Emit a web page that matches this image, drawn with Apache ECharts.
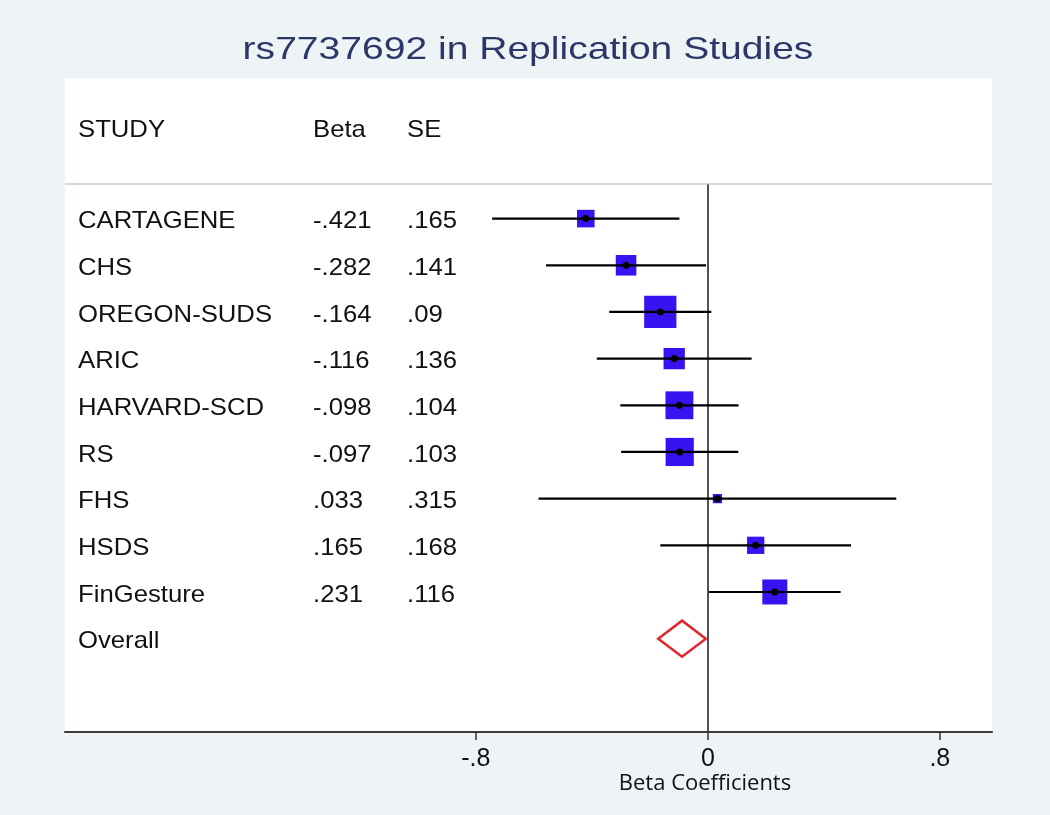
<!DOCTYPE html>
<html>
<head>
<meta charset="utf-8">
<title>rs7737692 in Replication Studies</title>
<script src="https://cdn.jsdelivr.net/npm/echarts@6/dist/echarts.min.js"></script>
<style>
  html, body { margin: 0; padding: 0; background: #eef3f6; }
  #forestChart { width: 1050px; height: 815px; }
</style>
</head>
<body>
<div id="forestChart"></div>
<script>
// study rows, top to bottom
const studies = ["CARTAGENE", "CHS", "OREGON-SUDS", "ARIC", "HARVARD-SCD", "RS", "FHS", "HSDS", "FinGesture"];
const beta = [-0.421, -0.282, -0.164, -0.116, -0.098, -0.097, 0.033, 0.165, 0.231];
const se = [0.165, 0.141, 0.09, 0.136, 0.104, 0.103, 0.315, 0.168, 0.116];
// 95% CI ends
const ciLow = [-0.744, -0.558, -0.340, -0.383, -0.302, -0.299, -0.584, -0.164, 0.004];
const ciHigh = [-0.098, -0.006, 0.012, 0.151, 0.106, 0.105, 0.650, 0.494, 0.458];
// pooled estimate (diamond)
const overallLabel = "Overall";
const overallBeta = -0.089;
const overallLow = -0.171;
const overallHigh = -0.007;
// x axis ticks
const tickValues = [-0.8, 0, 0.8];
const tickLabels = ["-.8", "0", ".8"];

// stata style numbers: -.421, .09
function fmt(v) {
  return String(v).replace("0.", ".");
}

const chart = echarts.init(document.getElementById("forestChart"));

const rowCount = studies.length;
const tableRows = studies.map((s, i) => [i, s, fmt(beta[i]), fmt(se[i])]);
tableRows.push([rowCount, overallLabel, "", ""]);

const studyData = studies.map((s, i) => [i, beta[i], ciLow[i], ciHigh[i], se[i]]);

const txtFont = '24px "Liberation Sans", Arial, sans-serif';
const txtScale = 1.07;

function headText(x, t) {
  return { type: "text", x: x, y: 130, scaleX: txtScale, style: { text: t, font: txtFont, fill: "#111", align: "left", verticalAlign: "middle" } };
}

chart.setOption({
  backgroundColor: "#eef3f6",
  animation: false,
  graphic: [
    // white plot panel
    {
      type: "rect",
      z: -10,
      shape: { x: 65, y: 78, width: 927, height: 654 },
      style: { fill: "#ffffff" },
    },
    {
      type: "line",
      z: -9,
      shape: { x1: 65, y1: 184, x2: 992, y2: 184 },
      style: { stroke: "#d6d8da", lineWidth: 2 },
    },
    {
      type: "text",
      x: 528,
      y: 50,
      scaleX: 1.22,
      style: {
        text: "rs7737692 in Replication Studies",
        font: '32px "Liberation Sans", Arial, sans-serif',
        fill: "#2b3767",
        align: "center",
        verticalAlign: "middle",
      },
    },
    headText(78, "STUDY"),
    headText(313, "Beta"),
    headText(407, "SE"),
    {
      type: "text",
      x: 705,
      y: 784,
      style: {
        text: "Beta Coefficients",
        font: '22px "Open Sans", sans-serif',
        fill: "#111",
        align: "center",
        verticalAlign: "middle",
      },
    },
  ],
  grid: { left: 65, right: 58, top: 185, bottom: 83 },
  xAxis: {
    type: "value",
    min: -2.217,
    max: 0.98,
    splitLine: { show: false },
    axisLine: { onZero: false, lineStyle: { color: "#3a3a3a", width: 2 } },
    axisTick: { show: true, customValues: tickValues, length: 8, lineStyle: { color: "#333", width: 1.5 } },
    axisLabel: {
      customValues: tickValues,
      formatter: (v) => tickLabels[tickValues.indexOf(v)],
      fontSize: 25,
      fontFamily: '"Liberation Sans", Arial, sans-serif',
      color: "#111",
      margin: 15,
    },
  },
  yAxis: {
    type: "value",
    inverse: true,
    min: -0.72,
    max: 11,
    splitLine: { show: false },
    axisTick: { show: false },
    axisLabel: { show: false },
    // vertical reference line sits on beta = 0
    axisLine: { show: true, onZero: true, lineStyle: { color: "#1a1a1a", width: 1.5 } },
  },
  series: [
    {
      // the text table on the left
      type: "custom",
      data: tableRows,
      silent: true,
      renderItem: function (params, api) {
        const y = api.coord([0, api.value(0)])[1] + 3;
        const row = tableRows[params.dataIndex];
        const mk = (x, t) => ({
          type: "text",
          x: x,
          y: y,
          scaleX: txtScale,
          style: { text: t, font: txtFont, fill: "#111", align: "left", verticalAlign: "middle" },
        });
        return { type: "group", children: [mk(78, row[1]), mk(313, row[2]), mk(407, row[3])] };
      },
      encode: { y: 0 },
    },
    {
      type: "custom",
      data: studyData,
      encode: { x: [1, 2, 3], y: 0 },
      renderItem: function (params, api) {
        const row = api.value(0);
        const c = api.coord([api.value(1), row]);
        const l = api.coord([api.value(2), row]);
        const h = api.coord([api.value(3), row]);
        // box side scales with 1/SE (weight)
        const s = 2.9 / api.value(4);
        return {
          type: "group",
          children: [
            { type: "rect", shape: { x: c[0] - s / 2, y: c[1] - s / 2, width: s, height: s }, style: { fill: "#3912f2" } },
            { type: "line", shape: { x1: l[0], y1: l[1], x2: h[0], y2: h[1] }, style: { stroke: "#000", lineWidth: 2.2 } },
            { type: "circle", shape: { cx: c[0], cy: c[1], r: 3.5 }, style: { fill: "#000" } },
          ],
        };
      },
    },
    {
      type: "custom",
      data: [[rowCount, overallBeta, overallLow, overallHigh]],
      encode: { x: [1, 2, 3], y: 0 },
      renderItem: function (params, api) {
        const row = api.value(0);
        const c = api.coord([api.value(1), row]);
        const l = api.coord([api.value(2), row]);
        const h = api.coord([api.value(3), row]);
        const hh = 18;
        return {
          type: "polygon",
          shape: { points: [[l[0], c[1]], [c[0], c[1] - hh], [h[0], c[1]], [c[0], c[1] + hh]] },
          style: { fill: "none", stroke: "#e0262b", lineWidth: 2.5 },
        };
      },
    },
  ],
});
</script>
</body>
</html>
